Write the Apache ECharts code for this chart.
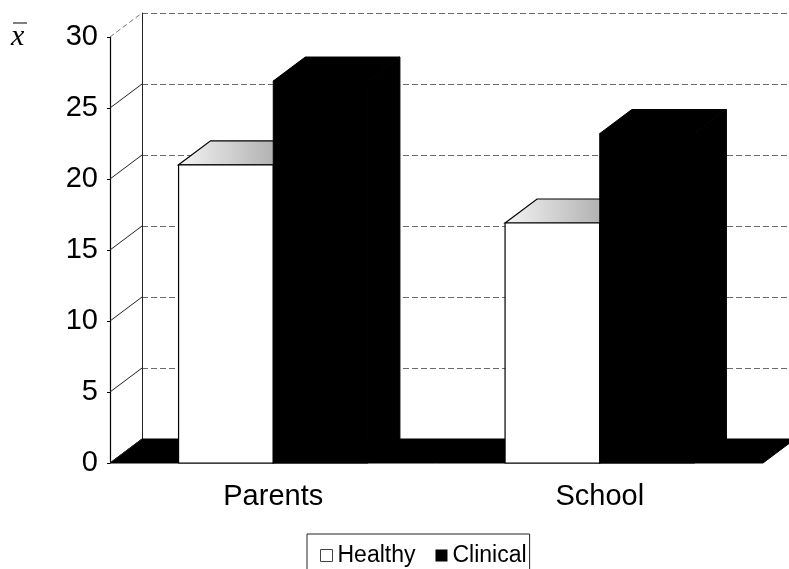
<!DOCTYPE html>
<html>
<head>
<meta charset="utf-8">
<title>Healthy vs Clinical</title>
<script src="https://cdn.jsdelivr.net/npm/echarts@6/dist/echarts.min.js"></script>
<style>
  html, body { margin: 0; padding: 0; background: #fff; }
  #chart { width: 789px; height: 569px; }
</style>
</head>
<body>
<div id="chart"></div>
<script>
// Mean scores per informant group
const categories = ['Parents', 'School'];
const healthy = [21.0, 16.9];
const clinical = [26.9, 23.2];
const yTicks = [0, 5, 10, 15, 20, 25, 30];

// Depth offset of the pseudo-3D box (pixels)
const DX = 32;
const DY = -24;
const BAR_RATIO = 0.29;
const FONT = '"Liberation Sans", Arial, sans-serif';

const chart = echarts.init(document.getElementById('chart'), null, { renderer: 'canvas' });

function barRenderer(side, style) {
  return function (params, api) {
    const cat = api.value(0);
    const val = api.value(1);
    const top = api.coord([cat, val]);
    const base = api.coord([cat, 0]);
    const band = api.size([1, 0])[0];
    const w = band * BAR_RATIO;
    const x0 = side === 0 ? top[0] - w : top[0];
    const x1 = x0 + w;
    const yT = top[1];
    const yB = base[1];
    return {
      type: 'group',
      children: [
        {
          type: 'polygon',
          shape: { points: [[x1, yT], [x1 + DX, yT + DY], [x1 + DX, yB + DY], [x1, yB]] },
          style: style.side
        },
        {
          type: 'polygon',
          shape: { points: [[x0, yT], [x0 + DX, yT + DY], [x1 + DX, yT + DY], [x1, yT]] },
          style: style.top
        },
        {
          type: 'rect',
          shape: { x: x0, y: yT, width: w, height: yB - yT },
          style: style.front
        }
      ]
    };
  };
}

const healthyStyle = {
  side: { fill: '#ffffff', stroke: '#000', lineWidth: 1.2 },
  top: {
    fill: new echarts.graphic.LinearGradient(0, 0, 1, 0, [
      { offset: 0, color: '#f4f4f4' },
      { offset: 1, color: '#9c9c9c' }
    ]),
    stroke: '#000', lineWidth: 1.2
  },
  front: { fill: '#ffffff', stroke: '#000', lineWidth: 1.2 }
};
const clinicalStyle = {
  side: { fill: '#000', stroke: '#000', lineWidth: 1 },
  top: { fill: '#000', stroke: '#000', lineWidth: 1 },
  front: { fill: '#000', stroke: '#000', lineWidth: 1 }
};

const option = {
  animation: false,
  backgroundColor: '#fff',
  grid: [
    { left: 110, top: 37, width: 653, height: 426 },
    { left: 110 + DX, top: 37 + DY, width: 653, height: 426 }
  ],
  xAxis: [
    {
      type: 'category',
      gridIndex: 0,
      data: categories,
      axisLine: { show: false },
      axisTick: { show: false },
      axisLabel: { color: '#000', fontSize: 29, fontFamily: FONT, margin: 19 }
    },
    { type: 'value', gridIndex: 1, show: false, min: 0, max: 1 }
  ],
  yAxis: [
    {
      type: 'value',
      gridIndex: 0,
      min: 0,
      max: 30,
      interval: 5,
      axisLine: { show: true, lineStyle: { color: '#000', width: 1.2 } },
      axisTick: { show: true, length: 3, lineStyle: { color: '#000' } },
      axisLabel: { color: '#000', fontSize: 29, fontFamily: FONT, margin: 12 },
      splitLine: { show: false }
    },
    {
      type: 'value',
      gridIndex: 1,
      min: 0,
      max: 30,
      interval: 5,
      axisLine: { show: true, lineStyle: { color: '#222', width: 1 } },
      axisTick: { show: false },
      axisLabel: { show: false },
      splitLine: { show: true, lineStyle: { color: '#6a6a6a', width: 1, type: [6, 3] } }
    }
  ],
  legend: {
    left: 307,
    top: 534,
    orient: 'horizontal',
    icon: 'rect',
    itemWidth: 12,
    itemHeight: 12,
    itemGap: 20,
    padding: [10, 3, 14, 13],
    borderColor: '#222',
    borderWidth: 1,
    textStyle: { color: '#000', fontSize: 23, fontFamily: FONT },
    data: [
      { name: 'Healthy', itemStyle: { color: '#fff', borderColor: '#444', borderWidth: 1 } },
      { name: 'Clinical', itemStyle: { color: '#000' } }
    ]
  },
  graphic: [
    {
      type: 'text',
      left: 11,
      top: 22,
      style: { text: 'x', font: 'italic 30px "Liberation Serif", "Times New Roman", serif', fill: '#000' }
    },
    {
      type: 'line',
      shape: { x1: 13, y1: 23, x2: 27, y2: 23 },
      style: { stroke: '#000', lineWidth: 1 }
    }
  ],
  series: [
    {
      // black floor of the box
      type: 'custom',
      xAxisIndex: 0,
      yAxisIndex: 0,
      silent: true,
      clip: false,
      z: 1,
      data: [[0, 0]],
      renderItem: function (params, api) {
        const cs = params.coordSys;
        const y0 = api.coord([0, 0])[1];
        return {
          type: 'polygon',
          shape: {
            points: [
              [cs.x, y0],
              [cs.x + cs.width, y0],
              [cs.x + cs.width + DX, y0 + DY],
              [cs.x + DX, y0 + DY]
            ]
          },
          style: { fill: '#000', stroke: '#000', lineWidth: 1 }
        };
      }
    },
    {
      // side-wall grid lines joining front ticks to the back wall
      type: 'custom',
      xAxisIndex: 0,
      yAxisIndex: 0,
      silent: true,
      clip: false,
      z: 2,
      data: yTicks.map(function (v) { return [0, v]; }),
      renderItem: function (params, api) {
        const cs = params.coordSys;
        const v = api.value(1);
        const y = api.coord([0, v])[1];
        const isTop = v === yTicks[yTicks.length - 1];
        return {
          type: 'line',
          shape: { x1: cs.x, y1: y, x2: cs.x + DX, y2: y + DY },
          style: isTop
            ? { stroke: '#777', lineWidth: 1, lineDash: [5, 3] }
            : { stroke: '#222', lineWidth: 1 }
        };
      }
    },
    {
      name: 'Healthy',
      type: 'custom',
      xAxisIndex: 0,
      yAxisIndex: 0,
      clip: false,
      z: 3,
      itemStyle: { color: '#fff' },
      data: healthy.map(function (v, i) { return [i, v]; }),
      renderItem: barRenderer(0, healthyStyle)
    },
    {
      name: 'Clinical',
      type: 'custom',
      xAxisIndex: 0,
      yAxisIndex: 0,
      clip: false,
      z: 3,
      itemStyle: { color: '#000' },
      data: clinical.map(function (v, i) { return [i, v]; }),
      renderItem: barRenderer(1, clinicalStyle)
    }
  ]
};

chart.setOption(option);
</script>
</body>
</html>
